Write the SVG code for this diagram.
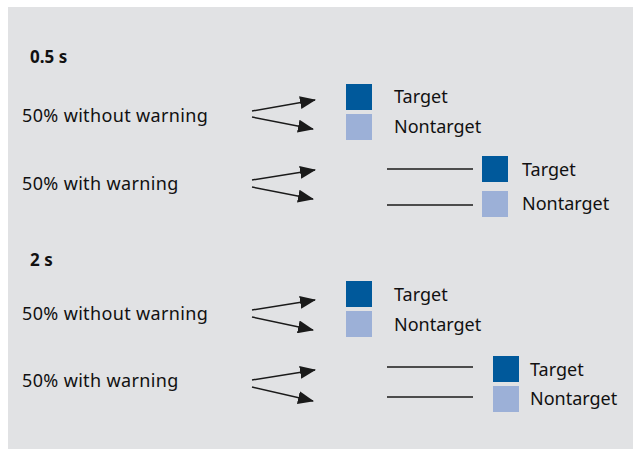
<svg xmlns="http://www.w3.org/2000/svg" width="635" height="449" viewBox="0 0 635 449">
<style>
text{font-family:"Noto Sans","Open Sans","DejaVu Sans",sans-serif;font-size:18px;fill:#111}
.w{letter-spacing:0.35px}
.h{font-weight:bold;font-size:17px}
.t{fill:#00599b}
.n{fill:#9cb0d7}
.c line{stroke:#1a1a1a;stroke-width:1.5}
.a{marker-end:url(#ah)}
</style>
<defs>
<marker id="ah" viewBox="0 0 16 13" refX="15" refY="6.5" markerWidth="16" markerHeight="13" markerUnits="userSpaceOnUse" orient="auto">
<path d="M0,0 L16,6.5 L0,13 Z" fill="#1a1a1a"/>
</marker>
</defs>
<rect x="8" y="7" width="625" height="442" fill="#e1e2e4"/>
<g id="head1"><text class="h" x="30" y="63">0.5 s</text></g>
<g id="w1a"><text class="w" x="22" y="122">50% without warning</text></g>
<g id="w1b"><text class="w" x="22" y="190">50% with warning</text></g>
<g id="t1a"><rect class="t" x="346" y="84" width="26" height="26"/><text x="394" y="103">Target</text></g>
<g id="n1a"><rect class="n" x="346" y="114" width="26" height="26"/><text x="394" y="133">Nontarget</text></g>
<g id="t1b"><rect class="t" x="482" y="156" width="26" height="26"/><text x="522" y="176">Target</text></g>
<g id="n1b"><rect class="n" x="482" y="191" width="26" height="26"/><text x="522" y="210">Nontarget</text></g>
<g id="head2"><text class="h" x="30" y="266">2 s</text></g>
<g id="w2a"><text class="w" x="22" y="320">50% without warning</text></g>
<g id="w2b"><text class="w" x="22" y="387">50% with warning</text></g>
<g id="t2a"><rect class="t" x="346" y="281" width="26" height="26"/><text x="394" y="301">Target</text></g>
<g id="n2a"><rect class="n" x="346" y="311" width="26" height="26"/><text x="394" y="331">Nontarget</text></g>
<g id="t2b"><rect class="t" x="493" y="356" width="26" height="26"/><text x="530" y="376">Target</text></g>
<g id="n2b"><rect class="n" x="493" y="386" width="26" height="26"/><text x="530" y="405">Nontarget</text></g>
<g id="connectors" class="c">
<line class="a" x1="252" y1="111" x2="315" y2="100"/>
<line class="a" x1="252" y1="117" x2="313" y2="129"/>
<line class="a" x1="252" y1="180" x2="315" y2="170"/>
<line class="a" x1="252" y1="187" x2="313" y2="199"/>
<line x1="387" y1="169" x2="473" y2="169"/>
<line x1="387" y1="205" x2="473" y2="205"/>
<line class="a" x1="252" y1="310" x2="315" y2="300"/>
<line class="a" x1="252" y1="317" x2="313" y2="330"/>
<line class="a" x1="252" y1="380" x2="315" y2="370"/>
<line class="a" x1="252" y1="387" x2="313" y2="401"/>
<line x1="387" y1="367" x2="473" y2="367"/>
<line x1="387" y1="397" x2="473" y2="397"/>
</g>
</svg>
